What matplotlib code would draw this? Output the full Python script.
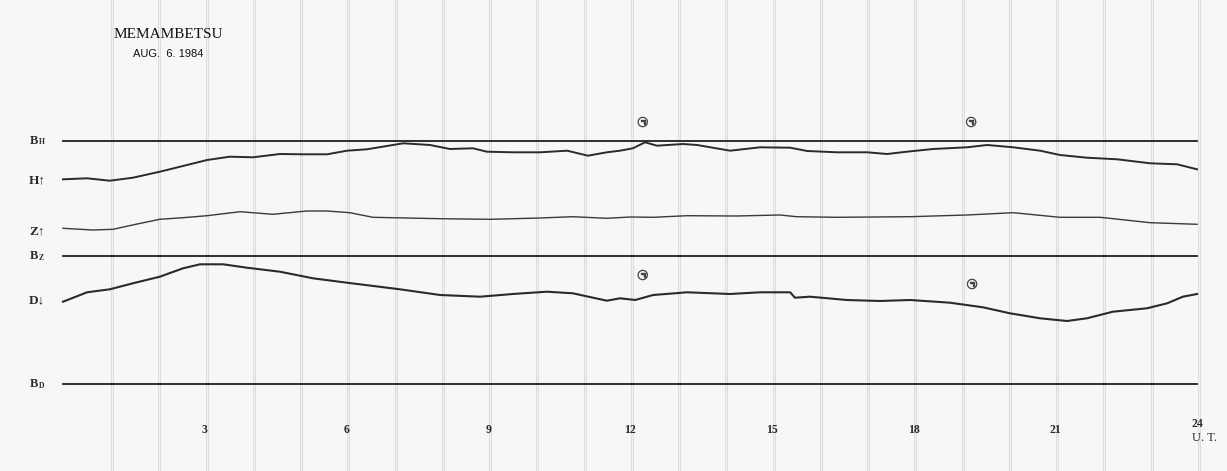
import matplotlib
matplotlib.use("Agg")
import numpy as np
from matplotlib import pyplot as plt

# Magnetogram, Memambetsu, 1984-08-06 (UT hours)
# trace offsets are read downward from the top of the record sheet
H_HOURS = [0.0, 0.51, 0.99, 1.48, 2.05, 2.54, 3.05, 3.53, 4.02, 4.59, 5.08, 5.59, 6.01,
           6.43, 7.20, 7.77, 8.19, 8.68, 8.97, 9.52, 10.10, 10.67, 11.11, 11.51, 11.79,
           12.06, 12.32, 12.57, 13.12, 13.42, 14.12, 14.75, 15.39, 15.75, 16.38, 17.02,
           17.44, 17.86, 18.41, 19.13, 19.56, 20.11, 20.68, 21.10, 21.67, 22.31, 23.01,
           23.58, 24.0]
H_TRACE = [179.3, 178.3, 180.7, 177.7, 171.7, 166.0, 160.0, 156.7, 157.3, 154.0, 154.3,
           154.3, 150.7, 149.3, 143.3, 145.0, 149.0, 148.3, 151.7, 152.3, 152.3, 150.7,
           155.7, 152.3, 150.7, 148.3, 142.3, 145.7, 144.0, 145.0, 150.7, 147.3, 147.7,
           151.0, 152.3, 152.3, 154.0, 151.7, 149.0, 147.3, 145.0, 147.3, 150.7, 155.0,
           157.7, 159.3, 163.3, 164.3, 169.3]

Z_HOURS = [0.0, 0.63, 1.06, 1.57, 2.05, 2.54, 3.05, 3.75, 4.44, 5.16, 5.59, 6.07, 6.56,
           7.98, 9.04, 10.10, 10.79, 11.51, 12.0, 12.49, 13.21, 14.26, 15.17, 15.53,
           16.38, 17.93, 19.13, 20.11, 21.10, 21.95, 23.01, 24.0]
Z_TRACE = [228.3, 230.0, 229.3, 224.0, 219.3, 217.7, 215.7, 211.7, 214.3, 211.0, 211.0,
           212.7, 217.3, 218.7, 219.3, 218.0, 216.7, 218.3, 217.0, 217.3, 215.7, 216.0,
           215.0, 216.7, 217.3, 216.7, 215.0, 212.7, 217.3, 217.3, 222.7, 224.3]

D_HOURS = [0.0, 0.51, 0.99, 1.48, 2.05, 2.54, 2.90, 3.39, 3.89, 4.59, 5.29, 6.01, 7.13,
           7.98, 8.83, 9.52, 10.24, 10.79, 11.51, 11.79, 12.11, 12.49, 13.21, 14.12,
           14.75, 15.39, 15.49, 15.81, 16.59, 17.29, 17.93, 18.77, 19.47, 20.04, 20.68,
           21.25, 21.67, 22.22, 22.94, 23.37, 23.70, 24.0]
D_TRACE = [301.7, 292.3, 289.3, 283.3, 276.7, 268.3, 264.3, 264.3, 267.7, 271.7, 278.3,
           282.7, 289.3, 295.0, 296.7, 294.0, 291.7, 293.3, 300.7, 298.3, 300.0, 295.0,
           292.3, 294.0, 292.3, 292.3, 297.7, 296.7, 300.0, 301.0, 300.0, 302.7, 307.3,
           313.3, 318.3, 321.0, 318.3, 311.7, 308.3, 303.3, 296.7, 294.0]

BASELINE_NAMES = ["H", "Z", "D"]
BASELINE_LEVELS = [141, 256, 384]
TRACE_LABELS = ["H\u2191", "Z\u2191", "D\u2193"]
TRACE_LABEL_LEVELS = [180, 231, 300]

# time marks (circled symbols) on the record
MARK_HOURS = [12.27, 19.22, 12.27, 19.24]
MARK_LEVELS = [122, 122, 275, 284]

TICK_HOURS = [3, 6, 9, 12, 15, 18, 21, 24]

SERIF = ["Liberation Serif", "DejaVu Serif"]
INK = "#2a2a2a"

fig = plt.figure(figsize=(12.27, 4.71), dpi=100)
fig.patch.set_facecolor("#f7f7f7")
ax = fig.add_axes([0, 0, 1, 1])
ax.set_facecolor("#f7f7f7")
px_per_hour = (1197 - 63) / 24
ax.set_xlim(-63 / px_per_hour, (1227 - 63) / px_per_hour)
ax.set_ylim(471, 0)
ax.axis("off")

# hourly grid lines of the chart paper
for h in range(1, 25):
    ax.axvline(h + 0.04, color="#dedede", lw=2.2, zorder=0)
    ax.axvline(h + 0.04, color="#f3f3f3", lw=0.6, zorder=0)

# baselines
for name, level in zip(BASELINE_NAMES, BASELINE_LEVELS):
    ax.plot([0, 24], [level, level], color="#1e1e1e", lw=1.3, zorder=2)
    ax.text(-0.52, level, "B", family=SERIF, fontsize=9, fontweight="bold",
            ha="right", va="center", color=INK)
    ax.text(-0.52, level + 1.5, name, family=SERIF, fontsize=5.5, fontweight="bold",
            ha="left", va="center", color=INK)

for lab, level in zip(TRACE_LABELS, TRACE_LABEL_LEVELS):
    ax.text(-0.55, level, lab, family=SERIF, fontsize=9.5, fontweight="bold",
            ha="center", va="center", color=INK)

# traces
ax.plot(H_HOURS, H_TRACE, color=INK, lw=1.4, zorder=3)
ax.plot(Z_HOURS, Z_TRACE, color="#3a3a3a", lw=1.0, zorder=3)
ax.plot(D_HOURS, D_TRACE, color=INK, lw=1.5, zorder=3)

# circled marks
ax.scatter(MARK_HOURS, MARK_LEVELS, s=45, facecolor="none", edgecolor="#444444",
           linewidth=0.9, zorder=4)
ax.scatter(MARK_HOURS, MARK_LEVELS, s=12, marker=r"$\urcorner$", color="#444444", zorder=4)

# hour labels
for h in TICK_HOURS[:-1]:
    ax.text(h, 430, str(h), family=SERIF, fontsize=8.5, fontweight="bold",
            ha="center", va="center", color=INK)
ax.text(24, 424, "24", family=SERIF, fontsize=8.5, fontweight="bold",
        ha="center", va="center", color=INK)
ax.text(24.15, 438, "U. T.", family=SERIF, fontsize=9,
        ha="center", va="center", color=INK)

# station and date
ax.text(1.06, 35, "MEMAMBETSU", family=SERIF, fontsize=11, ha="left", va="center",
        color="#111111")
ax.text(1.48, 54, "AUG.  6. 1984", family=["Liberation Sans", "DejaVu Sans"],
        fontsize=8, ha="left", va="center", color="#111111")

fig.savefig("out.png", dpi=100, facecolor=fig.get_facecolor())
